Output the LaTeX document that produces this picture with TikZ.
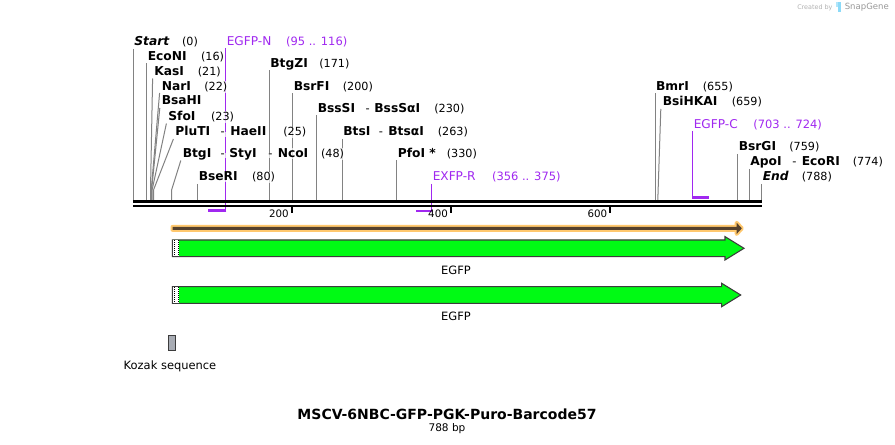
\documentclass[tikz,border=0pt]{standalone}
\usepackage{fontspec}
\setmainfont{DejaVu Sans}
\usetikzlibrary{arrows.meta}
\definecolor{prim}{RGB}{160,40,240}
\definecolor{cutgray}{RGB}{130,130,130}
\definecolor{gfp}{RGB}{0,250,20}
\definecolor{orfl}{RGB}{255,200,110}
\definecolor{orfd}{RGB}{85,65,45}
\definecolor{arrowline}{RGB}{60,60,60}
\definecolor{kozak}{RGB}{168,172,180}
\tikzset{
  lbl/.style={anchor=base west, inner sep=0.6pt, fill=white, fill opacity=0.7, text opacity=1},
  enz/.style={lbl, font=\fontsize{9.2}{11}\selectfont\bfseries},
  enzi/.style={lbl, font=\fontsize{9.2}{11}\selectfont\bfseries\itshape},
  num/.style={lbl, font=\fontsize{8.4}{10}\selectfont},
  hyph/.style={lbl, font=\fontsize{8.6}{10}\selectfont},
  plab/.style={lbl, text=prim, font=\fontsize{9.1}{11}\selectfont},
  pnum/.style={lbl, text=prim, font=\fontsize{8.6}{10}\selectfont},
  cut/.style={draw=cutgray, line width=0.75pt},
  pline/.style={draw=prim, line width=0.8pt},
  pbar/.style={draw=prim, line width=1.6pt},
  ticklbl/.style={anchor=base east, inner sep=0pt, font=\fontsize{7.7}{9}\selectfont},
  featlbl/.style={inner sep=0pt, font=\fontsize{8.6}{10}\selectfont},
}
\begin{document}
\begin{tikzpicture}[x=0.75pt,y=-0.75pt]
\useasboundingbox (0,0) rectangle (895,445);
\fill[white] (0,0) rectangle (895,445);

% ---- cut-site lines ----
\coordinate (cStart) at (133.7,200);
\coordinate (cEcoNI) at (146.5,200);
\coordinate (cKasI) at (150.5,200);
\coordinate (cNarI) at (151.2,200);
\coordinate (cBsaHI) at (151.6,200);
\coordinate (cSfoI) at (152.1,200);
\coordinate (cPluTI) at (153.5,200);
\coordinate (cBtgI) at (171.6,200);
\coordinate (cBseRI) at (197.6,200);
\coordinate (cBtgZI) at (269.8,200);
\coordinate (cBsrFI) at (292.7,200);
\coordinate (cBssSI) at (316.8,200);
\coordinate (cBtsI) at (342.8,200);
\coordinate (cPfoI) at (396.7,200);
\coordinate (cBmrI) at (655,200);
\coordinate (cBsiHKAI) at (657.8,200);
\coordinate (cBsrGI) at (737.7,200);
\coordinate (cApoI) at (749.6,200);
\coordinate (cEnd) at (761.7,200);

\draw[cut] (133.7,49) -- (cStart);
\draw[cut] (146.5,63.5) -- (cEcoNI);
\draw[cut] (152.6,78.5) -- (150.5,190) -- (cKasI);
\draw[cut] (159.6,93) -- (151.2,190) -- (cNarI);
\draw[cut] (159.8,108) -- (151.6,190) -- (cBsaHI);
\draw[cut] (166.4,123.5) -- (152.1,190) -- (cSfoI);
\draw[cut] (173.4,139) -- (153.5,190) -- (cPluTI);
\draw[cut] (180.8,160.5) -- (171.6,190) -- (cBtgI);
\draw[cut] (197.6,184) -- (cBseRI);
\draw[cut] (269.8,70.5) -- (cBtgZI);
\draw[cut] (292.7,93.5) -- (cBsrFI);
\draw[cut] (316.8,115.5) -- (cBssSI);
\draw[cut] (342.8,139) -- (cBtsI);
\draw[cut] (396.7,160.5) -- (cPfoI);
\draw[cut] (655,93.5) -- (cBmrI);
\draw[cut] (660.8,109) -- (cBsiHKAI);
\draw[cut] (737.7,154) -- (cBsrGI);
\draw[cut] (749.6,169) -- (cApoI);
\draw[cut] (761.7,184) -- (cEnd);

% ---- primer lines ----
\coordinate (pN1) at (225.7,210.5);
\coordinate (pN2) at (208.3,210.5);
\coordinate (pR1) at (431.7,210.7);
\coordinate (pR2) at (416,210.7);
\coordinate (pC1) at (692.7,197.5);
\coordinate (pC2) at (709.3,197.5);
\draw[pline] (225.7,48.5) -- (pN1);
\draw[pbar] ([xshift=0.5]pN1) -- (pN2);
\draw[pline] (431.7,184) -- (pR1);
\draw[pbar] ([xshift=0.5]pR1) -- (pR2);
\draw[pline] (692.7,131) -- (pC1);
\draw[pbar] ([xshift=-0.5]pC1) -- (pC2);

% ---- labels ----
\node[enzi] (lStart) at (133.3,46) {Start};
\node[num] (nStart) at (181,46) {(0)};
\node[plab] (lEGFPN) at (225.7,46) {EGFP-N};
\node[pnum] (nEGFPN) at (285,46) {(95 .. 116)};
\node[enz] (lEcoNI) at (146.7,60.7) {EcoNI};
\node[num] (nEcoNI) at (200,60.7) {(16)};
\node[enz] (lBtgZI) at (269.3,67.5) {BtgZI};
\node[num] (nBtgZI) at (318.3,67.5) {(171)};
\node[enz] (lKasI) at (153.3,75.7) {KasI};
\node[num] (nKasI) at (196.7,75.7) {(21)};
\node[enz] (lNarI) at (160.7,90.3) {NarI};
\node[num] (nNarI) at (203.3,90.3) {(22)};
\node[enz] (lBsrFI) at (292.7,90.3) {BsrFI};
\node[num] (nBsrFI) at (341.7,90.3) {(200)};
\node[enz] (lBmrI) at (655,90.7) {BmrI};
\node[num] (nBmrI) at (701.7,90.7) {(655)};
\node[enz] (lBsaHI) at (160.7,105) {BsaHI};
\node[enz] (lBsiHKAI) at (661.7,106) {BsiHKAI};
\node[num] (nBsiHKAI) at (730.7,106) {(659)};
\node[enz] (lBssSI) at (316.7,112.7) {BssSI};
\node[hyph] (hBssSI) at (364.5,112.7) {-};
\node[enz] (lBssSaI) at (373.3,112.7) {BssSαI};
\node[num] (nBssSI) at (433.3,112.7) {(230)};
\node[enz] (lSfoI) at (167.3,120.5) {SfoI};
\node[num] (nSfoI) at (210,120.5) {(23)};
\node[plab] (lEGFPC) at (692.7,128.3) {EGFP-C};
\node[pnum] (nEGFPC) at (752.3,128.3) {(703 .. 724)};
\node[enz] (lPluTI) at (174.3,136) {PluTI};
\node[hyph] (hPluTI) at (219.5,136) {-};
\node[enz] (lHaeII) at (229.3,136) {HaeII};
\node[num] (nPluTI) at (282.3,136) {(25)};
\node[enz] (lBtsI) at (342.3,136) {BtsI};
\node[hyph] (hBtsI) at (377.8,136) {-};
\node[enz] (lBtsaI) at (387.3,136) {BtsαI};
\node[num] (nBtsI) at (436.7,136) {(263)};
\node[enz] (lBsrGI) at (737.7,151) {BsrGI};
\node[num] (nBsrGI) at (788.3,151) {(759)};
\node[enz] (lBtgI) at (181.7,157.7) {BtgI};
\node[hyph] (hBtgI) at (219.5,157.7) {-};
\node[enz] (lStyI) at (228.3,157.7) {StyI};
\node[hyph] (hStyI) at (267.2,157.7) {-};
\node[enz] (lNcoI) at (276.7,157.7) {NcoI};
\node[num] (nBtgI) at (320,157.7) {(48)};
\node[enz] (lPfoI) at (396.7,157.5) {PfoI *};
\node[num] (nPfoI) at (445.7,157.5) {(330)};
\node[enz] (lApoI) at (749.3,166) {ApoI};
\node[hyph] (hApoI) at (791.2,166) {-};
\node[enz] (lEcoRI) at (800.7,166) {EcoRI};
\node[num] (nApoI) at (851.7,166) {(774)};
\node[enz] (lBseRI) at (197.7,181) {BseRI};
\node[num] (nBseRI) at (251,181) {(80)};
\node[plab] (lEXFPR) at (431.7,181) {EXFP-R};
\node[pnum] (nEXFPR) at (491,181) {(356 .. 375)};
\node[enzi] (lEnd) at (761.7,181) {End};
\node[num] (nEnd) at (800.7,181) {(788)};

% ---- sequence axis ----
\coordinate (axL1) at (133,201.3);
\coordinate (axR1) at (762,201.3);
\coordinate (axL2) at (133,206);
\coordinate (axR2) at (762,206);
\draw[line width=2pt] (axL1) -- (axR1);
\draw[line width=2pt] (axL2) -- (axR2);
\foreach \x/\t in {291.7/200, 450.9/400, 610.2/600}{
  \draw[line width=1.4pt] (\x,206.5) -- (\x,213.5);
  \node[ticklbl] (t\t) at (\x-2.8,217.6) {\t};
}

% ---- ORF arrow ----
\path[draw=orfl, fill=orfl, line width=3pt, line join=round]
  (172.5,226.9) -- (736.7,226.9) -- (736.7,222.8) -- (741.8,228.35) -- (736.7,233.9) -- (736.7,229.8) -- (172.5,229.8) -- cycle;
\fill[orfd]
  (172.5,226.9) -- (736.7,226.9) -- (736.7,222.8) -- (741.8,228.35) -- (736.7,233.9) -- (736.7,229.8) -- (172.5,229.8) -- cycle;

% ---- EGFP feature arrows ----
\foreach \yc/\hb/\tip/\nm in {248.3/725/744/1, 295/721.7/740.7/2}{
  \draw[draw=arrowline, fill=gfp, line width=0.8pt, line join=miter]
    (172.5,\yc-8.3) -- (\hb,\yc-8.3) -- (\hb,\yc-11.7) -- (\tip,\yc) -- (\hb,\yc+11.7) -- (\hb,\yc+8.3) -- (172.5,\yc+8.3) -- cycle;
  \fill[white] (173,\yc-7.9) rectangle (178.6,\yc+7.9);
  \draw[black, line width=0.75pt, dash pattern=on 0.75pt off 0.75pt] (174.3,\yc-7.9) -- (174.3,\yc+7.9);
  \draw[black, line width=0.75pt, dash pattern=on 0.75pt off 0.75pt] (178.2,\yc-7.9) -- (178.2,\yc+7.9);
}
\node[featlbl] (egfp1) at (456,270) {EGFP};
\node[featlbl] (egfp2) at (456,316.5) {EGFP};

% ---- Kozak ----
\draw[draw=arrowline, fill=kozak, line width=0.7pt] (168.3,335) rectangle (175,350);
\node[featlbl, anchor=base] (kozak) at (170,369.3) {Kozak sequence};

% ---- title ----
\node[inner sep=0pt, anchor=base, font=\fontsize{10.5}{12}\selectfont\bfseries] (title) at (447,419) {MSCV-6NBC-GFP-PGK-Puro-Barcode57};
\node[inner sep=0pt, anchor=base, font=\fontsize{7.9}{9}\selectfont] (bp) at (447,431.5) {788 bp};

% ---- SnapGene mark ----
\node[inner sep=0pt, anchor=west, text=black!30, font=\fontsize{4.8}{6}\selectfont] (cby) at (797,7.5) {Created by};
\fill[cyan!45] (837.5,2.5) rectangle (841,12.5);
\fill[cyan!30] (836,2.5) rectangle (837.5,7);
\node[inner sep=0pt, anchor=west, text=black!40, font=\fontsize{6.4}{8}\selectfont] (sg) at (844.5,7.5) {SnapGene};
\end{tikzpicture}
\end{document}
